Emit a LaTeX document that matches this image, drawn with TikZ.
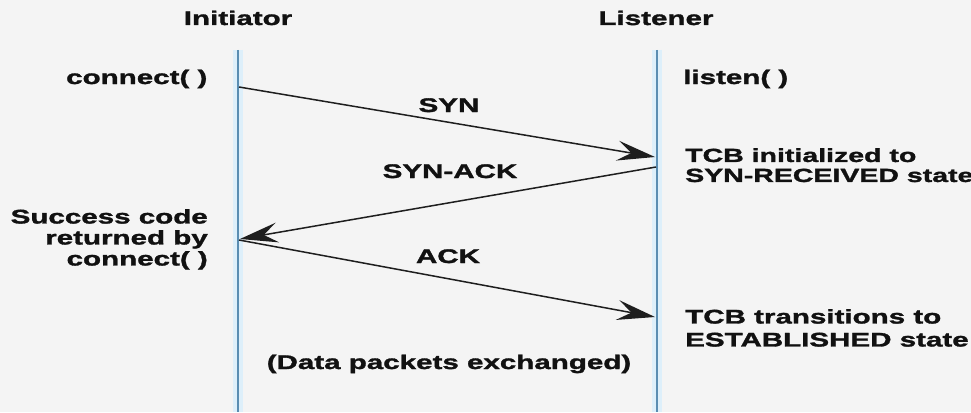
\documentclass[tikz,border=0pt]{standalone}
\usepackage{fontspec}
\newfontfamily\labfont[FakeStretch=1.5, BoldFeatures={FakeBold=1.6}]{Liberation Sans}
\usetikzlibrary{arrows.meta}
\definecolor{bgcol}{HTML}{F4F4F4}
\definecolor{lifeglow}{HTML}{DDEFFA}
\definecolor{lifecol}{HTML}{5A8DB2}
\definecolor{txtcol}{HTML}{111111}
\definecolor{arrcol}{HTML}{1E1E1E}
\tikzset{
  lab/.style={inner sep=0pt, text=txtcol, font=\labfont\bfseries\fontsize{19.7}{23}\selectfont},
  lifeglowline/.style={draw=lifeglow, line width=10pt},
  lifeline/.style={draw=lifecol, line width=2.4pt},
  msg/.style={draw=arrcol, line width=1.5pt, -{Stealth[length=38pt,width=20pt,inset=14pt]}},
}
\begin{document}
\begin{tikzpicture}[x=1pt,y=-1pt]
\fill[bgcol] (0,0) rectangle (971,412);
\useasboundingbox (0,0) rectangle (971,412);
% lifelines
\coordinate (itop) at (238,50);
\coordinate (ibot) at (238,412);
\coordinate (ltop) at (657,50);
\coordinate (lbot) at (657,412);
\draw[lifeglowline] (itop) -- (ibot);
\draw[lifeglowline] (ltop) -- (lbot);
\draw[lifeline] (itop) -- (ibot);
\draw[lifeline] (ltop) -- (lbot);
% message end points
\coordinate (synA) at (239,87);
\coordinate (synB) at (655,157);
\coordinate (sackA) at (656,167);
\coordinate (sackB) at (240,239);
\coordinate (ackA) at (239,240);
\coordinate (ackB) at (655,317);
\draw[msg] (synA) -- (synB);
\draw[msg] (sackA) -- (sackB);
\draw[msg] (ackA) -- (ackB);
% labels
\node[lab, anchor=base] (init) at (238,25) {Initiator};
\node[lab, anchor=base] (list) at (656,25) {Listener};
\node[lab, anchor=base west] (conn) at (66,84) {connect( )};
\node[lab, anchor=base west] (lsn) at (683,84) {listen( )};
\node[lab, anchor=base] (syn) at (449,112) {SYN};
\node[lab, anchor=base] (synack) at (450,178) {SYN-ACK};
\node[lab, anchor=base] (ack) at (448,263) {ACK};
\node[lab, anchor=north east, align=right, font=\labfont\bfseries\fontsize{19.7}{21}\selectfont] (succ) at (208,209) {Success code\\returned by\\connect( )};
\node[lab, anchor=north west, align=left, font=\labfont\bfseries\fontsize{19}{20}\selectfont] (tcbinit) at (685,148) {TCB initialized to\\SYN-RECEIVED state};
\node[lab, anchor=north west, align=left] (tcbtrans) at (685,309) {TCB transitions to\\ESTABLISHED state};
\node[lab, anchor=base] (data) at (449,369) {(Data packets exchanged)};
\end{tikzpicture}
\end{document}
